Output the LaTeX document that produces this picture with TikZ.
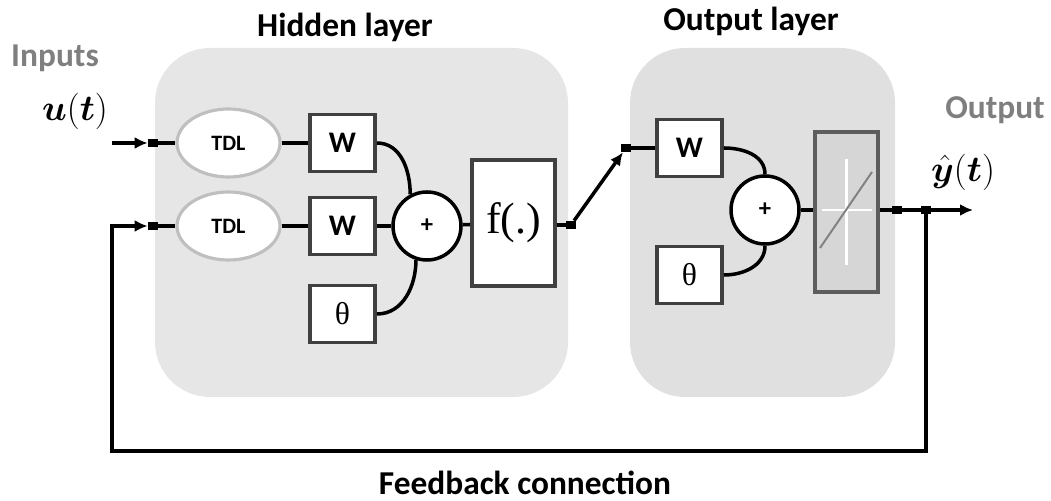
\documentclass[tikz,border=0pt]{standalone}
\usepackage{fontspec}
\setmainfont{Carlito}
\newfontfamily\fnfont{Liberation Serif}
\usepackage{bm}
\usetikzlibrary{shapes.geometric,arrows.meta}

\definecolor{layergray}{HTML}{E6E6E6}
\definecolor{outgray}{HTML}{E0E0E0}
\definecolor{boxedge}{HTML}{404040}
\definecolor{labelgray}{HTML}{7F7F7F}
\definecolor{linfill}{HTML}{D6D6D6}
\definecolor{tdledge}{HTML}{BFBFBF}

\begin{document}
\begin{tikzpicture}[
    wire/.style={line width=2pt},
    tip/.style={-{Latex[length=2.6mm,width=2.4mm]}},
    weight/.style={draw=boxedge, fill=white, line width=2.2pt, minimum width=1.3cm,
        minimum height=1.14cm, font=\fontsize{17}{17}\selectfont\bfseries},
    tdl/.style={ellipse, draw=tdledge, fill=white, line width=1.8pt, minimum width=2.06cm,
        minimum height=1.36cm, inner sep=0pt, font=\fontsize{12.5}{12.5}\selectfont\bfseries},
    adder/.style={circle, draw, fill=white, line width=2pt, minimum size=1.36cm,
        inner sep=0pt, font=\fontsize{14}{14}\selectfont\bfseries},
    junc/.style={fill, minimum width=0.2cm, minimum height=0.16cm, inner sep=0pt},
    title/.style={font=\fontsize{19}{19}\selectfont\bfseries},
    side/.style={font=\fontsize{19}{19}\selectfont\bfseries, text=labelgray, inner sep=1pt},
    ]
    \useasboundingbox (0, 0) rectangle (21.02, 10.02);

    % the two layers
    \fill [layergray, rounded corners=1.1cm] (3.1, 2.08) rectangle (11.36, 9.06);
    \fill [outgray, rounded corners=1.1cm] (12.6, 2.08) rectangle (17.9, 9.06);
    \node [title] (hidtitle) at (6.9, 9.47) {Hidden layer};
    \node [title] (outtitle) at (15.02, 9.6) {Output layer};
    \node [side] (inlabel) at (1.1, 8.86) {Inputs};
    \node [side] (outlabel) at (19.9, 7.82) {Output};
    \node [title] (fblabel) at (10.5, 0.36) {Feedback connection};
    \node [font=\fontsize{20}{20}\selectfont, inner sep=0pt] (ulabel) at (1.5, 7.8) {$\bm{u}(\bm{t})$};
    \node [font=\fontsize{20}{20}\selectfont, inner sep=0pt] (ylabel) at (19.26, 6.58) {$\hat{\bm{y}}(\bm{t})$};

    % hidden layer
    \node [tdl] (tdl1) at (4.57, 7.16) {TDL};
    \node [tdl] (tdl2) at (4.57, 5.5) {TDL};
    \node [weight] (w1) at (6.85, 7.16) {W};
    \node [weight] (w2) at (6.85, 5.5) {W};
    \node [weight, font=\fontsize{18}{18}\selectfont\fnfont] (th1) at (6.85, 3.74) {θ};
    \node [adder] (sum1) at (8.54, 5.5) {+};
    \node [draw=boxedge, fill=white, line width=2.2pt, minimum width=1.66cm, minimum height=2.52cm,
        font=\fontsize{25}{25}\selectfont\fnfont] (act) at (10.27, 5.56) {f(.)};
    \node [junc] (j1) at (11.42, 5.52) {};

    % output layer
    \node [junc] (j2) at (12.52, 7.06) {};
    \node [weight] (w3) at (13.79, 7.06) {W};
    \node [weight, font=\fontsize{18}{18}\selectfont\fnfont] (th2) at (13.79, 4.52) {θ};
    \node [adder] (sum2) at (15.3, 5.82) {+};
    \node [draw=boxedge!85, fill=linfill, line width=2.2pt, minimum width=1.26cm,
        minimum height=3.2cm] (lin) at (16.93, 5.78) {};
    \draw [white, line width=1.2pt] ([xshift=-0.5cm, yshift=0.04cm]lin.center) -- ([xshift=0.5cm, yshift=0.04cm]lin.center);
    \draw [white, line width=1.2pt] ([yshift=-1.06cm]lin.center) -- ([yshift=1.06cm]lin.center);
    \draw [gray, line width=1.1pt] ([xshift=-0.53cm, yshift=-0.72cm]lin.center) -- ([xshift=0.51cm, yshift=0.8cm]lin.center);
    \node [junc] (j3) at (17.94, 5.82) {};
    \node [junc] (j4) at (18.52, 5.82) {};

    % input and feedback ends
    \coordinate (uin) at (2.24, 7.16);
    \node [junc] (m1) at (3.06, 7.16) {};
    \node [junc] (m2) at (3.06, 5.5) {};
    \coordinate (yout) at (19.46, 5.82);
    \coordinate (fbr) at (18.52, 1.0);
    \coordinate (fbl) at (2.24, 1.0);
    \coordinate (fbt) at (2.24, 5.5);

    % wires
    \draw [wire, tip] (uin) -- (m1.west);
    \draw [wire] (m1) -- (tdl1);
    \draw [wire] (tdl1) -- (w1);
    \draw [wire] (tdl2) -- (w2);
    \draw [wire] (w2) -- (sum1);
    \draw [wire] (w1.east) to [out=0, in=90] (sum1.118);
    \draw [wire] (th1.east) to [out=0, in=-90] (sum1.-108);
    \draw [wire] (sum1) -- (act);
    \draw [wire] (act.east |- j1) -- (j1);
    \draw [wire, tip] (j1) -- (j2);
    \draw [wire] (j2) -- (w3);
    \draw [wire] (w3.east) to [out=0, in=90] (sum2.north);
    \draw [wire] (th2.east) to [out=0, in=-90] (sum2.south);
    \draw [wire] (sum2) -- (lin.west |- sum2);
    \draw [wire] (lin.east |- j3) -- (j3) -- (j4);
    \draw [wire, tip] (j4) -- (yout);
    \draw [wire, tip] (j4.center) -- (fbr) -- (fbl) -- (fbt) -- (m2.west);
    \draw [wire] (m2) -- (tdl2);
\end{tikzpicture}
\end{document}
